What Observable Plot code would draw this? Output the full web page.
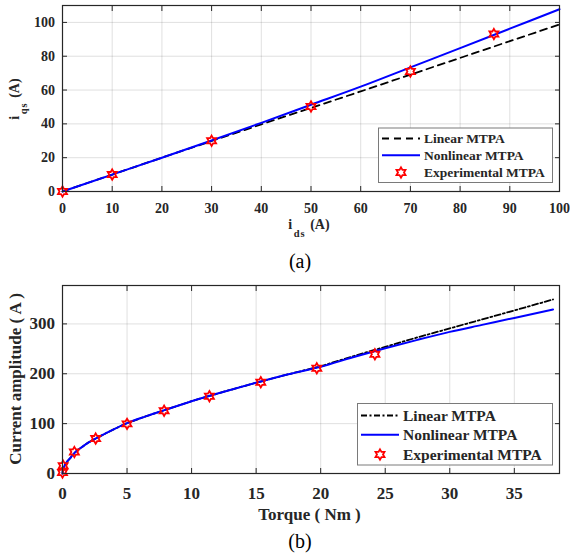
<!DOCTYPE html>
<html>
<head>
<meta charset="utf-8">
<script src="https://cdn.jsdelivr.net/npm/d3@7"></script>
<script src="https://cdn.jsdelivr.net/npm/@observablehq/plot@0.6"></script>
<style>
  html, body { margin: 0; padding: 0; background: white; }
  #root { position: relative; width: 570px; height: 553px; overflow: hidden; background: white; }
  #root svg { position: absolute; left: 0; }
</style>
</head>
<body>
<div id="root"></div>
<script>
// ---------- Panel (a): i_qs vs i_ds ----------
const idsLinear = [0, 20, 40, 60, 80, 100];
const iqsLinear = [0, 20, 39.7, 59.2, 79.0, 98.8];
const idsNonlinear = [0, 10, 20, 30, 40, 50, 60, 70, 80, 90, 100];
const iqsNonlinear = [0, 10, 20, 30.2, 40.6, 51.3, 62, 73.4, 84.8, 96.3, 107.8];
const idsExp = [0, 10, 30, 50, 70, 86.8];
const iqsExp = [0, 10, 30, 50.3, 71, 93.1];
const xTicksA = [0, 10, 20, 30, 40, 50, 60, 70, 80, 90, 100];
const yTicksA = [0, 20, 40, 60, 80, 100];

// ---------- Panel (b): current amplitude vs torque ----------
const torqueCurve = [0, 0.02, 0.1, 0.3, 0.6, 1, 1.5, 2, 3, 4, 5, 6.5, 8, 10, 12.5, 15, 17.5, 20, 22.5, 25, 27.5, 30, 32.5, 35, 38];
const ampNonlinear = [0, 5, 12, 22, 31, 43, 53, 62, 76, 89, 101, 115, 128, 145, 164, 182, 199, 214, 233, 251, 268, 284, 298, 312, 329];
const ampLinear = [0, 5, 12, 22, 31, 43, 53, 62, 76, 89, 101, 115, 128, 145, 164, 182, 199, 215, 235, 254, 273, 291, 309, 327, 349];
const torqueExp = [0, 0.05, 0.92, 2.57, 5.0, 7.87, 11.38, 15.36, 19.7, 24.2];
const ampExp = [2, 15.5, 43, 70, 99.5, 126, 155, 183, 211, 239];
const xTicksB = [0, 5, 10, 15, 20, 25, 30, 35];
const yTicksB = [0, 100, 200, 300];

const legendLabels = ["Linear MTPA", "Nonlinear MTPA", "Experimental MTPA"];

const SERIF = "'Liberation Serif', 'Times New Roman', serif";
const AX = "#262626";

// hexagram (six-pointed star) symbol
const hexagram = {
  draw(ctx, size) {
    const R = Math.sqrt(size / Math.PI) * 1.15;
    const r = R / Math.sqrt(3);
    for (let k = 0; k < 12; k++) {
      const a = -Math.PI / 2 + k * Math.PI / 6;
      const rr = k % 2 === 0 ? R : r;
      const x = rr * Math.cos(a), y = rr * Math.sin(a);
      if (k === 0) ctx.moveTo(x, y); else ctx.lineTo(x, y);
    }
    ctx.closePath();
  }
};

function panel({height, mt, mb, xDomain, yDomain, xTicks, yTicks, fontSize, padX, padY,
                xL, yL, xN, yN, xE, yE, dash}) {
  return Plot.plot({
    width: 570, height,
    marginLeft: 62, marginRight: 11, marginTop: mt, marginBottom: mb,
    style: {fontFamily: SERIF, fontWeight: "bold", fontSize: fontSize + "px", color: AX, background: "transparent"},
    x: {domain: xDomain},
    y: {domain: yDomain},
    marks: [
      Plot.gridX(xTicks, {stroke: AX, strokeOpacity: 0.14, strokeWidth: 1}),
      Plot.gridY(yTicks, {stroke: AX, strokeOpacity: 0.14, strokeWidth: 1}),
      Plot.line(yL, {x: xL, y: yL, stroke: "black", strokeWidth: 1.8, strokeDasharray: dash}),
      Plot.line(yN, {x: xN, y: yN, stroke: "#0000ff", strokeWidth: 2, curve: "monotone-x"}),
      Plot.dot(yE, {x: xE, y: yE, symbol: hexagram, r: 4.5, stroke: "#ff0000", strokeWidth: 1.8, fill: "none"}),
      Plot.frame({stroke: AX, strokeWidth: 1.2}),
      Plot.axisX(xTicks, {anchor: "bottom", tickSize: -5, tickPadding: padX, label: null}),
      Plot.axisX(xTicks, {anchor: "top", tickSize: -5, tickFormat: () => "", label: null}),
      Plot.axisY(yTicks, {anchor: "left", tickSize: -5, tickPadding: padY, label: null}),
      Plot.axisY(yTicks, {anchor: "right", tickSize: -5, tickFormat: () => "", label: null})
    ]
  });
}

function legend(svg, {x0, y0, x1, y1, rows, lx0, lx1, tx, fs, dash}) {
  const g = svg.append("g");
  g.append("rect").attr("x", x0).attr("y", y0).attr("width", x1 - x0).attr("height", y1 - y0)
    .attr("fill", "white").attr("stroke", "#7a7a7a").attr("stroke-width", 1);
  g.append("line").attr("x1", lx0).attr("x2", lx1).attr("y1", rows[0]).attr("y2", rows[0])
    .attr("stroke", "black").attr("stroke-width", 1.8).attr("stroke-dasharray", dash);
  g.append("line").attr("x1", lx0).attr("x2", lx1).attr("y1", rows[1]).attr("y2", rows[1])
    .attr("stroke", "#0000ff").attr("stroke-width", 2);
  const p = d3.path();
  hexagram.draw(p, Math.PI * 4.5 * 4.5);
  g.append("path").attr("d", p.toString()).attr("transform", `translate(${(lx0 + lx1) / 2},${rows[2]})`)
    .attr("fill", "none").attr("stroke", "#ff0000").attr("stroke-width", 1.8);
  legendLabels.forEach((t, i) => {
    g.append("text").attr("x", tx).attr("y", rows[i]).attr("dy", "0.35em")
      .attr("text-anchor", "start")
      .attr("font-family", SERIF).attr("font-weight", "bold").attr("font-size", fs)
      .attr("fill", AX).text(t);
  });
}

const root = document.getElementById("root");

// ----- Panel (a) -----
const hA = 280;
const svgA = panel({
  height: hA, mt: 5, mb: hA - 191, xDomain: [0, 100], yDomain: [0, 110],
  xTicks: xTicksA, yTicks: yTicksA, fontSize: 14, padX: 17, padY: 12.5,
  xL: idsLinear, yL: iqsLinear, xN: idsNonlinear, yN: iqsNonlinear, xE: idsExp, yE: iqsExp, dash: "7,5"
});
svgA.style.top = "0px";
root.appendChild(svgA);
{
  const s = d3.select(svgA);
  legend(s, {x0: 378.5, y0: 128, x1: 552.5, y1: 182.5, rows: [138.5, 155.3, 172.5],
             lx0: 382, lx1: 420, tx: 424, fs: 13.5, dash: "7,5"});
  const g = s.append("g").attr("font-family", SERIF).attr("font-weight", "bold").attr("fill", AX);
  const xl = g.append("text").attr("x", 309).attr("y", 229).attr("text-anchor", "middle").attr("font-size", 14);
  xl.append("tspan").text("i");
  xl.append("tspan").attr("font-size", 10.5).attr("dy", 8).attr("dx", 1.5).attr("letter-spacing", 1).text("ds");
  xl.append("tspan").attr("dy", -8).attr("dx", 1).text(" (A)");
  const yl = g.append("text").attr("transform", "translate(19,99) rotate(-90)").attr("text-anchor", "middle").attr("font-size", 14);
  yl.append("tspan").text("i");
  yl.append("tspan").attr("font-size", 10.5).attr("dy", 8).attr("dx", 1.5).attr("letter-spacing", 1).text("qs");
  yl.append("tspan").attr("dy", -8).attr("dx", 1).text(" (A)");
  s.append("text").attr("x", 300).attr("y", 268).attr("text-anchor", "middle")
    .attr("font-family", SERIF).attr("font-weight", "normal").attr("font-size", 20).attr("fill", "black").text("(a)");
}

// ----- Panel (b) -----
const topB = 270, hB = 553 - topB;
const svgB = panel({
  height: hB, mt: 285 - topB, mb: 553 - 473, xDomain: [0, 38.5], yDomain: [0, 377],
  xTicks: xTicksB, yTicks: yTicksB, fontSize: 17, padX: 18, padY: 12.5,
  xL: torqueCurve, yL: ampLinear, xN: torqueCurve, yN: ampNonlinear, xE: torqueExp, yE: ampExp, dash: "6,2.5,2,2.5"
});
svgB.style.top = topB + "px";
root.appendChild(svgB);
{
  const s = d3.select(svgB);
  legend(s, {x0: 357.5, y0: 403.5 - topB, x1: 552.5, y1: 465 - topB,
             rows: [415.5 - topB, 434.8 - topB, 454.5 - topB],
             lx0: 361, lx1: 399, tx: 403, fs: 15.5, dash: "6,2.5,2,2.5"});
  const g = s.append("g").attr("font-family", SERIF).attr("font-weight", "bold").attr("fill", AX).attr("font-size", 17);
  g.append("text").attr("x", 309.5).attr("y", 520 - topB).attr("text-anchor", "middle").text("Torque ( Nm )");
  g.append("text").attr("transform", `translate(21,${379 - topB}) rotate(-90)`).attr("text-anchor", "middle").text("Current amplitude ( A )");
  s.append("text").attr("x", 300).attr("y", 548 - topB).attr("text-anchor", "middle")
    .attr("font-family", SERIF).attr("font-weight", "normal").attr("font-size", 20).attr("fill", "black").text("(b)");
}
</script>
</body>
</html>
